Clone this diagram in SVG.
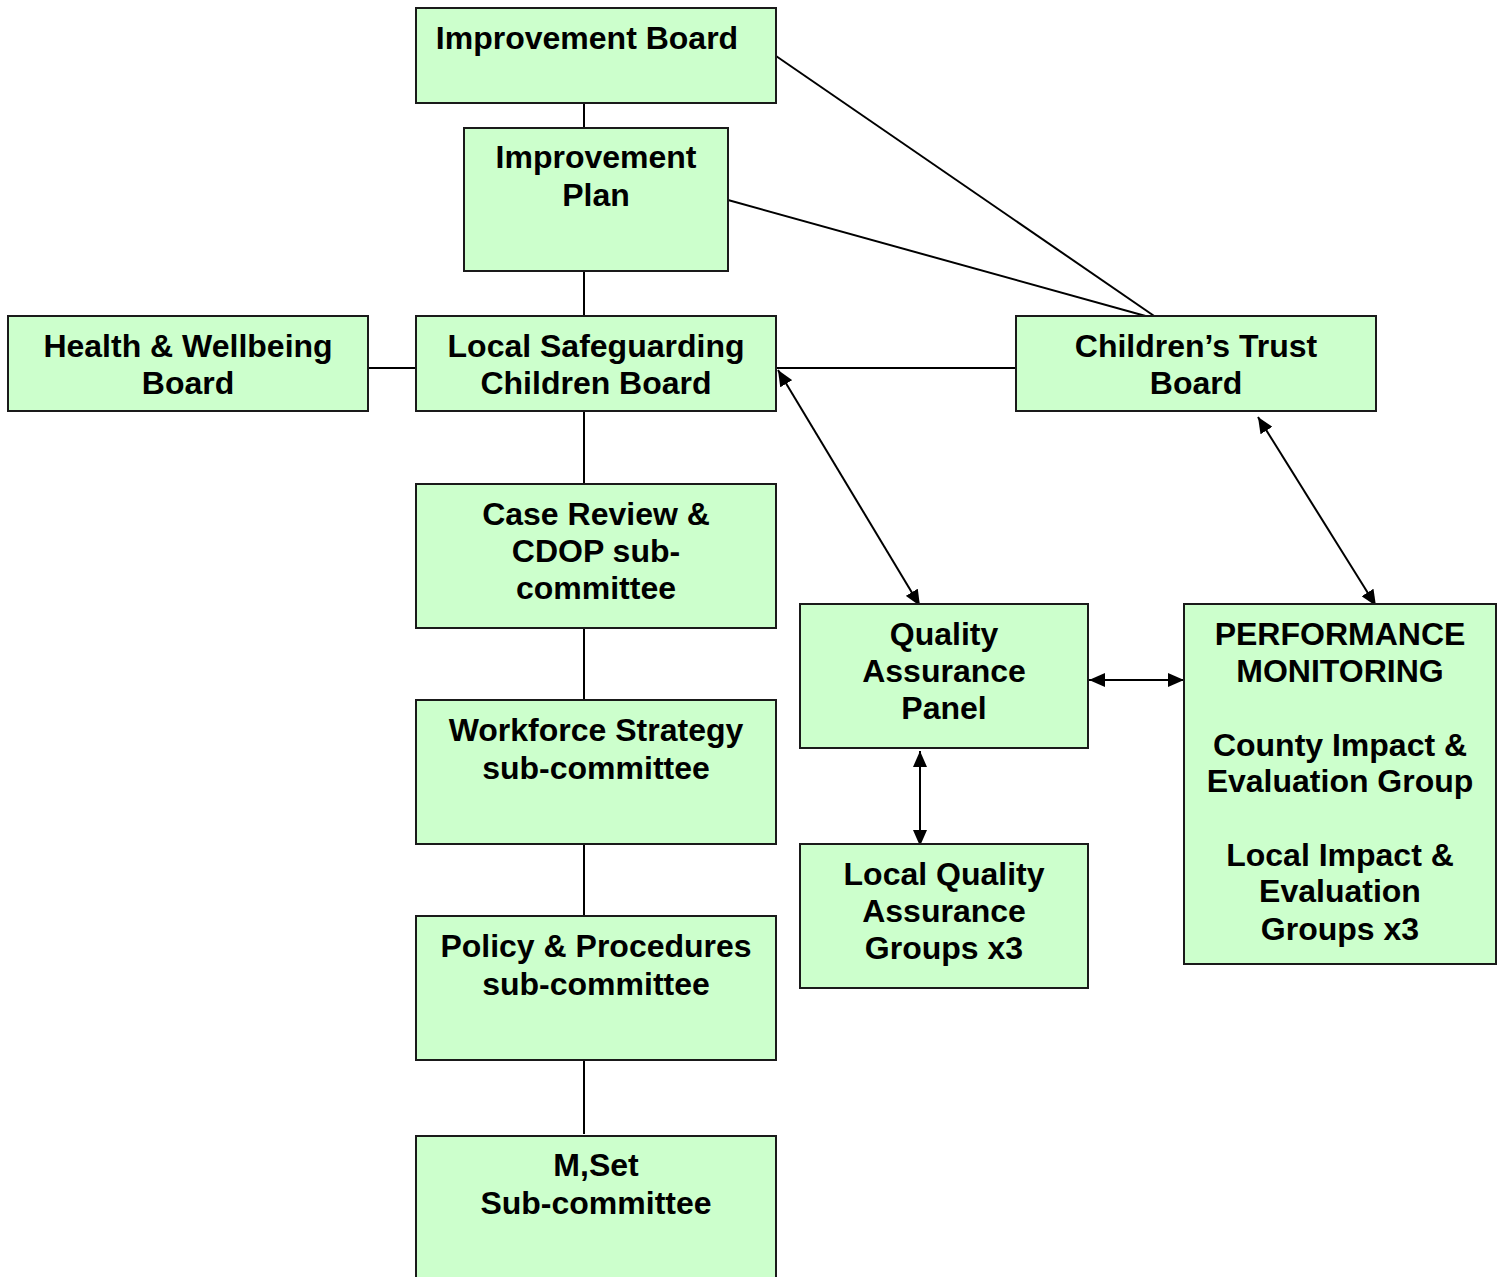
<svg xmlns="http://www.w3.org/2000/svg" width="1506" height="1277" viewBox="0 0 1506 1277">
<style>
.box{fill:#CCFFCC;stroke:#1a1a1a;stroke-width:2}
.t{font-family:"Liberation Sans",Arial,sans-serif;font-weight:bold;font-size:32px;fill:#000;text-anchor:middle}
.c{stroke:#000;stroke-width:2;fill:none}
</style>
<defs>
<marker id="ah" viewBox="0 0 16 14" refX="16" refY="7" markerWidth="16" markerHeight="14" markerUnits="userSpaceOnUse" orient="auto-start-reverse">
<path d="M0,0 L16,7 L0,14 Z" fill="#000"/>
</marker>
</defs>
<rect width="1506" height="1277" fill="#fff"/>
<g id="connectors">
<line class="c" x1="584" y1="103" x2="584" y2="128"/>
<line class="c" x1="584" y1="271" x2="584" y2="316"/>
<line class="c" x1="584" y1="411" x2="584" y2="484"/>
<line class="c" x1="584" y1="628" x2="584" y2="700"/>
<line class="c" x1="584" y1="844" x2="584" y2="916"/>
<line class="c" x1="584" y1="1060" x2="584" y2="1134"/>
<line class="c" x1="368" y1="368" x2="416" y2="368"/>
<line class="c" x1="776" y1="368" x2="1016" y2="368"/>
<line class="c" x1="776" y1="56" x2="1160" y2="320"/>
<line class="c" x1="728" y1="200" x2="1160" y2="320"/>
<line class="c" x1="778" y1="370" x2="920" y2="606" marker-start="url(#ah)" marker-end="url(#ah)"/>
<line class="c" x1="1258" y1="417" x2="1376" y2="606" marker-start="url(#ah)" marker-end="url(#ah)"/>
<line class="c" x1="1089" y1="680" x2="1184" y2="680" marker-start="url(#ah)" marker-end="url(#ah)"/>
<line class="c" x1="920" y1="751" x2="920" y2="846" marker-start="url(#ah)" marker-end="url(#ah)"/>
</g>
<g id="improvement-board">
<rect class="box" x="416" y="8" width="360" height="95"/>
<text class="t" x="587" y="49">Improvement Board</text>
</g>
<g id="improvement-plan">
<rect class="box" x="464" y="128" width="264" height="143"/>
<text class="t" x="596" y="168">Improvement</text>
<text class="t" x="596" y="206">Plan</text>
</g>
<g id="health-wellbeing">
<rect class="box" x="8" y="316" width="360" height="95"/>
<text class="t" x="188" y="357">Health &amp; Wellbeing</text>
<text class="t" x="188" y="394">Board</text>
</g>
<g id="lscb">
<rect class="box" x="416" y="316" width="360" height="95"/>
<text class="t" x="596" y="357">Local Safeguarding</text>
<text class="t" x="596" y="394">Children Board</text>
</g>
<g id="childrens-trust">
<rect class="box" x="1016" y="316" width="360" height="95"/>
<text class="t" x="1196" y="357">Children’s Trust</text>
<text class="t" x="1196" y="394">Board</text>
</g>
<g id="case-review">
<rect class="box" x="416" y="484" width="360" height="144"/>
<text class="t" x="596" y="525">Case Review &amp;</text>
<text class="t" x="596" y="562">CDOP sub-</text>
<text class="t" x="596" y="599">committee</text>
</g>
<g id="workforce">
<rect class="box" x="416" y="700" width="360" height="144"/>
<text class="t" x="596" y="741">Workforce Strategy</text>
<text class="t" x="596" y="779">sub-committee</text>
</g>
<g id="policy">
<rect class="box" x="416" y="916" width="360" height="144"/>
<text class="t" x="596" y="957">Policy &amp; Procedures</text>
<text class="t" x="596" y="995">sub-committee</text>
</g>
<g id="mset">
<rect class="box" x="416" y="1136" width="360" height="160"/>
<text class="t" x="596" y="1176">M,Set</text>
<text class="t" x="596" y="1214">Sub-committee</text>
</g>
<g id="qa-panel">
<rect class="box" x="800" y="604" width="288" height="144"/>
<text class="t" x="944" y="645">Quality</text>
<text class="t" x="944" y="682">Assurance</text>
<text class="t" x="944" y="719">Panel</text>
</g>
<g id="local-qa-groups">
<rect class="box" x="800" y="844" width="288" height="144"/>
<text class="t" x="944" y="885">Local Quality</text>
<text class="t" x="944" y="922">Assurance</text>
<text class="t" x="944" y="959">Groups x3</text>
</g>
<g id="performance">
<rect class="box" x="1184" y="604" width="312" height="360"/>
<text class="t" x="1340" y="645">PERFORMANCE</text>
<text class="t" x="1340" y="682">MONITORING</text>
<text class="t" x="1340" y="756">County Impact &amp;</text>
<text class="t" x="1340" y="792">Evaluation Group</text>
<text class="t" x="1340" y="866">Local Impact &amp;</text>
<text class="t" x="1340" y="902">Evaluation</text>
<text class="t" x="1340" y="940">Groups x3</text>
</g>
</svg>
